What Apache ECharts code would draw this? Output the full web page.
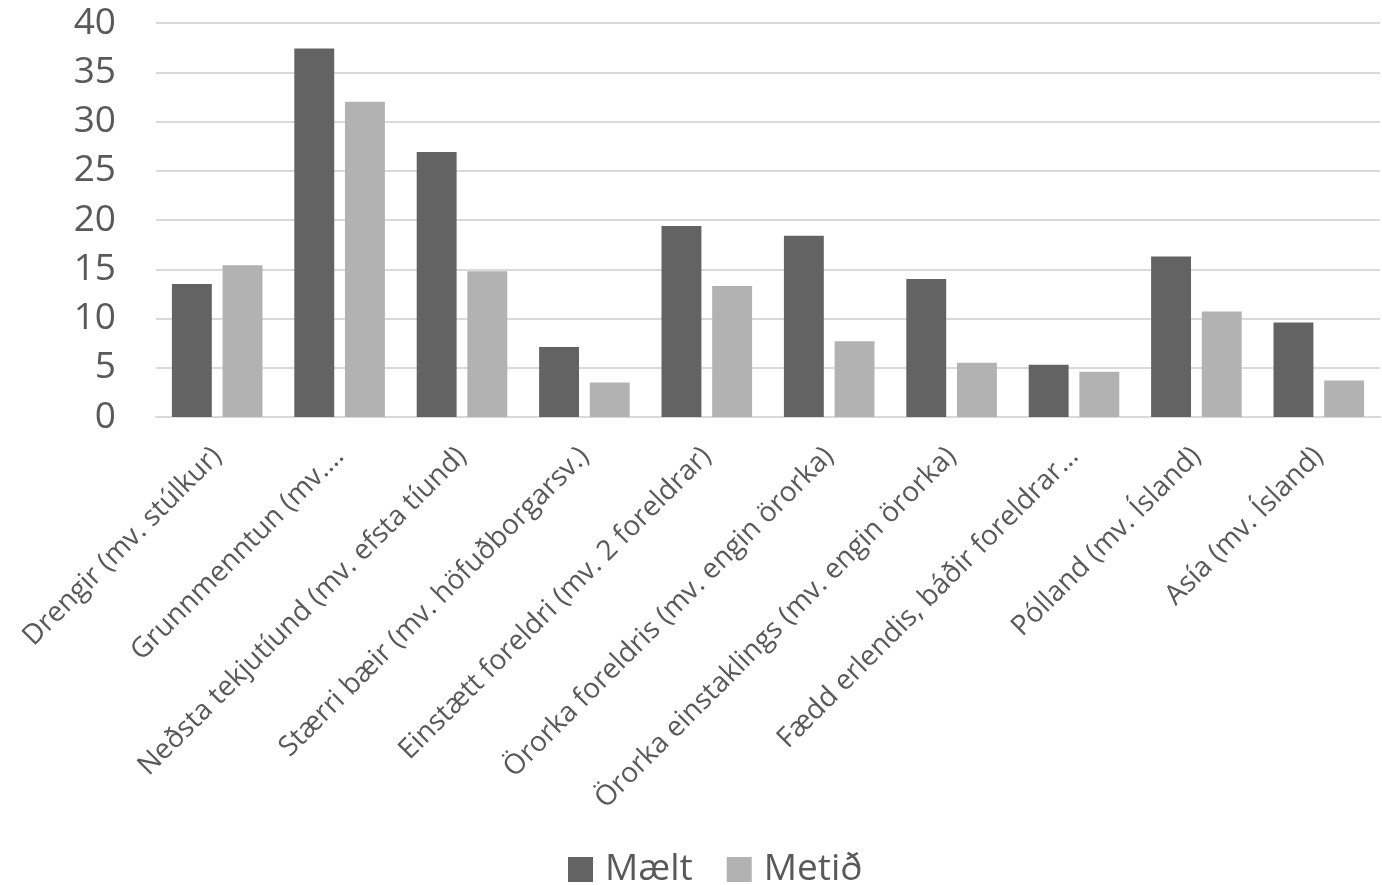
<!DOCTYPE html>
<html>
<head>
<meta charset="utf-8">
<script src="https://cdn.jsdelivr.net/npm/echarts@6/dist/echarts.min.js"></script>
<style>
html,body{margin:0;padding:0;background:#fff;}
#chart{width:1382px;height:885px;}
</style>
</head>
<body>
<div id="chart"></div>
<script>
const categories = [
  "Drengir (mv. stúlkur)",
  "Grunnmenntun (mv.…",
  "Neðsta tekjutíund (mv. efsta tíund)",
  "Stærri bæir (mv. höfuðborgarsv.)",
  "Einstætt foreldri (mv. 2 foreldrar)",
  "Örorka foreldris (mv. engin örorka)",
  "Örorka einstaklings (mv. engin örorka)",
  "Fædd erlendis, báðir foreldrar…",
  "Pólland (mv. Ísland)",
  "Asía (mv. Ísland)"
];
const maelt = [13.5, 37.4, 26.9, 7.1, 19.4, 18.4, 14.0, 5.3, 16.3, 9.6];
const metid = [15.4, 32.0, 14.8, 3.5, 13.3, 7.7, 5.5, 4.6, 10.7, 3.7];
const yTicks = { min: 0, max: 40, interval: 5 };

const FONT = "Open Sans";
const chart = echarts.init(document.getElementById('chart'), null, {renderer: 'canvas'});
chart.setOption({
  animation: false,
  textStyle: { fontFamily: FONT, color: '#595959' },
  grid: { left: 156, right: 2, top: 23, bottom: 468 },
  legend: {
    top: 846,
    left: 563,
    itemWidth: 25,
    itemHeight: 25,
    itemGap: 34,
    icon: 'rect',
    textStyle: { fontSize: 37, color: '#595959', fontFamily: FONT, padding: [0,0,0,7] },
    data: ['Mælt', 'Metið']
  },
  xAxis: {
    type: 'category',
    data: categories,
    axisLine: { show: true, lineStyle: { color: '#d9d9d9', width: 2 } },
    axisTick: { show: false },
    axisLabel: {
      rotate: 45,
      interval: 0,
      fontSize: 28,
      color: '#595959',
      fontFamily: FONT,
      margin: 35
    }
  },
  yAxis: {
    type: 'value',
    min: yTicks.min,
    max: yTicks.max,
    interval: yTicks.interval,
    axisLine: { show: false },
    axisTick: { show: false },
    splitLine: { lineStyle: { color: '#d9d9d9', width: 2 } },
    axisLabel: { fontSize: 37, color: '#595959', fontFamily: FONT, margin: 40 }
  },
  series: [
    { name: 'Mælt', type: 'bar', data: maelt, itemStyle: { color: '#636363' }, barGap: '27%', barCategoryGap: '26%' },
    { name: 'Metið', type: 'bar', data: metid, itemStyle: { color: '#b2b2b2' } }
  ]
});
</script>
</body>
</html>
